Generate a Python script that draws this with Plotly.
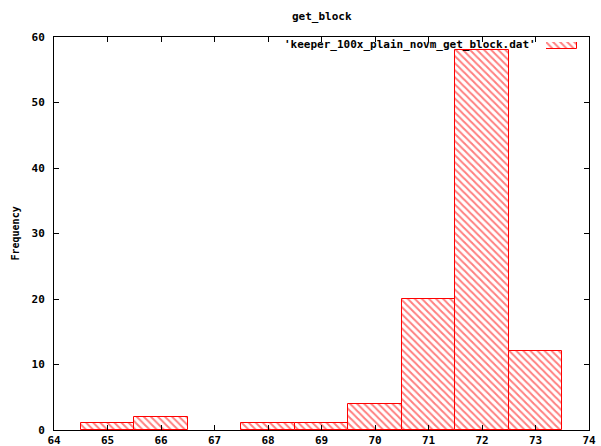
import plotly.graph_objects as go

# Histogram of get_block timings
bins = [65, 66, 67, 68, 69, 70, 71, 72, 73]
counts = [1, 2, 0, 1, 1, 4, 20, 58, 12]
x_ticks = list(range(64, 75))
y_ticks = [0, 10, 20, 30, 40, 50, 60]
series_name = "'keeper_100x_plain_novm_get_block.dat'"

FONT = "DejaVu Sans Mono"
RED = "#ff0000"
pattern = dict(shape="\\", fgcolor=RED, bgcolor="white", size=5, solidity=0.4)

# empty bins get no outline
outline_widths = [1 if c > 0 else 0 for c in counts]

fig = go.Figure()
fig.add_trace(go.Bar(
    x=bins, y=counts, width=1.0,
    marker=dict(color="white", line=dict(color=RED, width=outline_widths),
                pattern=pattern),
    showlegend=False,
))

# legend sample box, drawn on its own small axes in the top-right corner
fig.add_trace(go.Bar(
    x=[0.5], y=[1], width=1.0, xaxis="x2", yaxis="y2",
    marker=dict(color="white", line=dict(color=RED, width=1), pattern=pattern),
    showlegend=False, hoverinfo="skip",
))

axis_font = dict(family=FONT, size=11, color="black", weight="bold")

fig.update_layout(
    width=601, height=446,
    margin=dict(l=54, r=12, t=37, b=16, autoexpand=False),
    paper_bgcolor="white", plot_bgcolor="white",
    font=dict(family=FONT, size=11, color="black"),
    bargap=0,
    showlegend=False,
    xaxis=dict(
        range=[64, 74], tickvals=x_ticks, ticktext=[str(v) for v in x_ticks],
        ticks="inside", ticklen=5, tickcolor="black", tickwidth=1,
        showline=True, linecolor="black", linewidth=1, mirror="ticks",
        showgrid=False, zeroline=False, tickfont=axis_font,
        ticklabelstandoff=0, automargin=False,
    ),
    yaxis=dict(
        range=[0, 60], tickvals=y_ticks, ticktext=[str(v) for v in y_ticks],
        ticks="inside", ticklen=5, tickcolor="black", tickwidth=1,
        showline=True, linecolor="black", linewidth=1, mirror="ticks",
        showgrid=False, zeroline=False, tickfont=axis_font,
        ticklabelstandoff=6, automargin=False,
    ),
    xaxis2=dict(domain=[492 / 535, 523 / 535], range=[0, 1], visible=False,
                anchor="y2", fixedrange=True),
    yaxis2=dict(domain=[1 - 12 / 393, 1 - 5 / 393], range=[0, 1], visible=False,
                anchor="x2", fixedrange=True),
    annotations=[
        dict(text="get_block", xref="paper", yref="paper", x=0.5, y=1 + 20 / 393,
             xanchor="center", yanchor="middle", showarrow=False,
             font=dict(family=FONT, size=11, color="black", weight="bold")),
        dict(text="Frequency", xref="paper", yref="paper", x=-39 / 535, y=0.5,
             textangle=-90, xanchor="center", yanchor="middle", showarrow=False,
             font=dict(family=FONT, size=10, color="black", weight="bold")),
        dict(text=series_name, xref="paper", yref="paper", x=484 / 535,
             y=1 - 8 / 393, xanchor="right", yanchor="middle", showarrow=False,
             font=dict(family=FONT, size=11, color="black", weight="bold")),
    ],
)

fig.write_html("out.html")
